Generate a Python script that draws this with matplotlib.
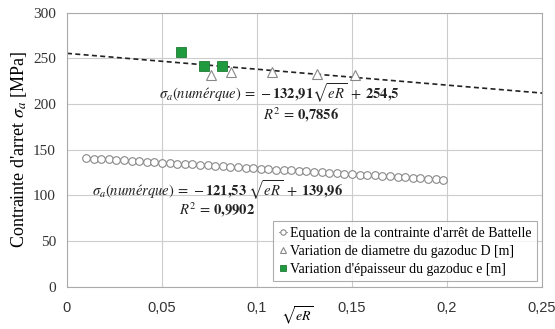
import matplotlib
matplotlib.use('agg')
import matplotlib.pyplot as plt  # noqa: E402

# Battelle equation points
battelle_x = [0.010, 0.014, 0.018, 0.022, 0.026, 0.030, 0.034, 0.038, 0.042, 0.046,
              0.050, 0.054, 0.058, 0.062, 0.066, 0.070, 0.074, 0.078, 0.082, 0.086,
              0.090, 0.094, 0.098, 0.102, 0.106, 0.110, 0.114, 0.118, 0.122, 0.126,
              0.130, 0.134, 0.138, 0.142, 0.146, 0.150, 0.154, 0.158, 0.162, 0.166,
              0.170, 0.174, 0.178, 0.182, 0.186, 0.190, 0.194, 0.198]
battelle_y = [140.8, 140.3, 139.8, 139.3, 138.8, 138.3, 137.8, 137.3, 136.8, 136.3,
              135.8, 135.3, 134.8, 134.3, 133.8, 133.3, 132.8, 132.3, 131.8, 131.3,
              130.8, 130.3, 129.8, 129.3, 128.8, 128.3, 127.8, 127.3, 126.8, 126.3,
              125.8, 125.3, 124.8, 124.3, 123.8, 123.3, 122.8, 122.3, 121.8, 121.3,
              120.8, 120.3, 119.8, 119.3, 118.8, 118.3, 117.8, 117.3]

# variation of pipe diameter D
diam_x = [0.0756, 0.0863, 0.1077, 0.1314, 0.1516]
diam_y = [231.9, 234.8, 235.5, 233.0, 232.0]

# variation of wall thickness e
thick_x = [0.0598, 0.0723, 0.0814]
thick_y = [256.7, 241.7, 241.7]

# trend line (as drawn)
trend_x = [0.0, 0.25]
trend_y = [255.5, 212.0]

xticks = [0, 0.05, 0.1, 0.15, 0.2, 0.25]
xtick_labels = ['0', '0,05', '0,1', '0,15', '0,2', '0,25']
yticks = [0, 50, 100, 150, 200, 250, 300]

plt.rcParams['mathtext.fontset'] = 'stix'

fig = plt.figure(figsize=(5.55, 3.29), dpi=100)
ax = fig.add_axes([0.1207, 0.1286, 0.856, 0.8328])

ax.grid(True, color='#cccccc', linewidth=0.8)
ax.set_axisbelow(True)

ax.plot(trend_x, trend_y, color='#222222', linestyle=(0, (3, 2)), linewidth=1.2, zorder=2)

ax.plot(battelle_x, battelle_y, color='#999999', linewidth=0.7, marker='o',
        markersize=5.5, markerfacecolor='white', markeredgecolor='#888888',
        markeredgewidth=0.8, label="Equation de la contrainte d'arrêt de Battelle", zorder=3)
ax.plot(diam_x, diam_y, linestyle='none', marker='^', markersize=7,
        markerfacecolor='white', markeredgecolor='#888888', markeredgewidth=0.8,
        label='Variation de diametre du gazoduc D [m]', zorder=3)
ax.plot(thick_x, thick_y, linestyle='none', marker='s', markersize=6.5,
        markerfacecolor='#1f9a3e', markeredgecolor='#1f7a35', markeredgewidth=0.6,
        label="Variation d'épaisseur du gazoduc e [m]", zorder=4)

ax.set_xlim(0, 0.25)
ax.set_ylim(0, 300)
ax.set_xticks(xticks)
ax.set_xticklabels(xtick_labels, family='Liberation Sans', fontsize=10.5, color='#333333')
ax.set_yticks(yticks)
ax.set_yticklabels([str(v) for v in yticks], family='Liberation Serif', fontsize=11, color='#333333')
ax.tick_params(axis='x', length=0, pad=10)
ax.tick_params(axis='y', length=0, pad=8)
for s in ax.spines.values():
    s.set_color('#aaaaaa')
    s.set_linewidth(0.8)

fig.text(297 / 555, 1 - 327 / 329, r'$\sqrt{eR}$', fontsize=10, ha='center', va='bottom')
ax.set_ylabel(r"Contrainte d'arret $\sigma_a$ [MPa]", family='Liberation Serif',
              fontsize=13, labelpad=3)

eq_kw = dict(fontsize=10.5, color='#222222', ha='center', va='center')
ax.text(0.112, 212, r'$\sigma_a(num\acute{e}rque)\,=\,-\mathbf{132{,}91}\sqrt{eR}\;+\;\mathbf{254{,}5}$', **eq_kw)
ax.text(0.1234, 188, r'$R^2\,=\,\mathbf{0{,}7856}$', **eq_kw)
ax.text(0.079, 106, r'$\sigma_a(num\acute{e}rque)\,=\,-\mathbf{121{,}53}\;\sqrt{eR}\;+\;\mathbf{139{,}96}$', **eq_kw)
ax.text(0.079, 84, r'$R^2\,=\,\mathbf{0{,}9902}$', **eq_kw)

leg = ax.legend(loc='lower right', bbox_to_anchor=(0.995, 0.01), prop={'family': 'Liberation Serif', 'size': 10},
                frameon=True, fancybox=False, handlelength=0.6, handletextpad=0.2,
                borderpad=0.4, labelspacing=0.35, markerscale=0.7, borderaxespad=0.2)
leg.get_frame().set_edgecolor('#999999')
leg.get_frame().set_linewidth(0.8)

fig.savefig('out.png', dpi=100)
